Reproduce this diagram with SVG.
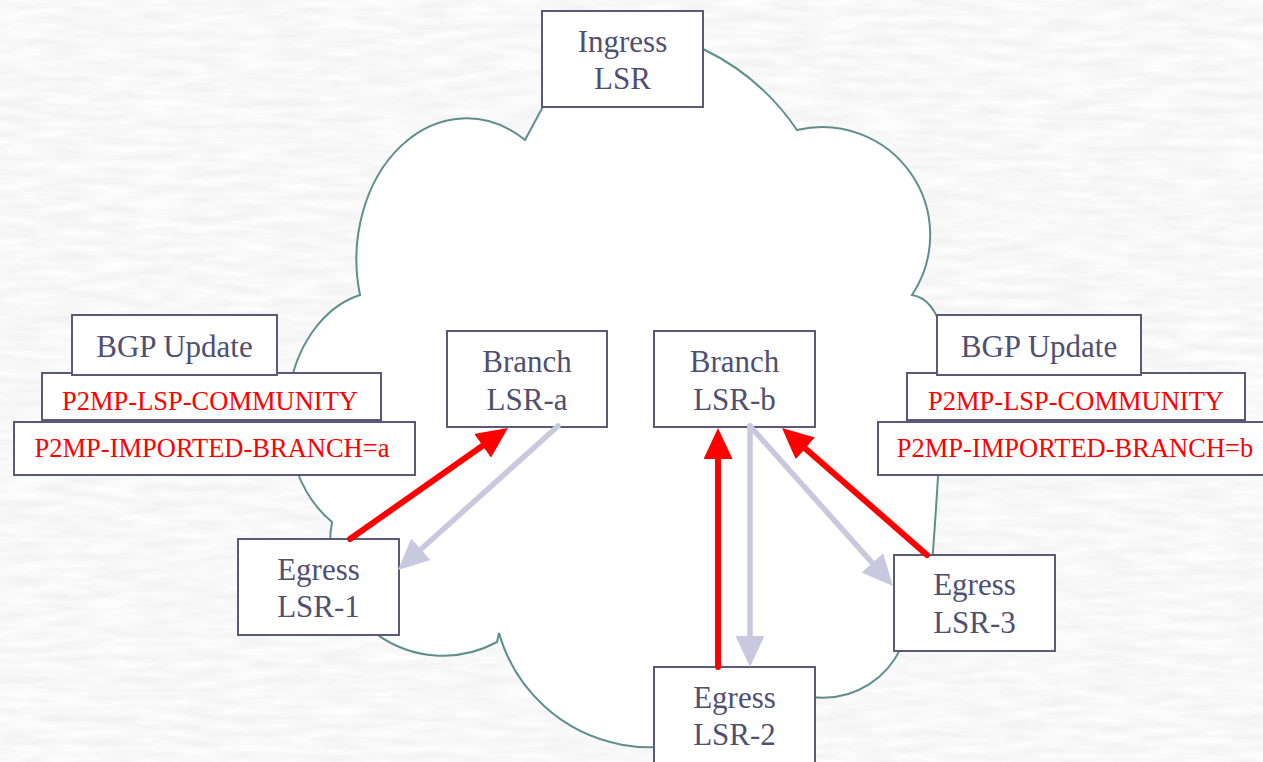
<svg xmlns="http://www.w3.org/2000/svg" width="1263" height="762" viewBox="0 0 1263 762">
  <defs>
    <filter id="marble" x="0" y="0" width="100%" height="100%">
      <feTurbulence type="fractalNoise" baseFrequency="0.022 0.13" numOctaves="4" seed="7"/>
      <feColorMatrix type="matrix" values="0.16 0 0 0 0.86  0.16 0 0 0 0.86  0.16 0 0 0 0.86  0 0 0 0 1"/>
    </filter>
    <marker id="head-red" viewBox="0 0 31 29" refX="0" refY="14.5" markerWidth="31" markerHeight="29" markerUnits="userSpaceOnUse" orient="auto">
      <path d="M0,0 L31,14.5 L0,29 Z" fill="#ff0000"/>
    </marker>
    <marker id="head-lav" viewBox="0 0 31 29" refX="0" refY="14.5" markerWidth="31" markerHeight="29" markerUnits="userSpaceOnUse" orient="auto">
      <path d="M0,0 L31,14.5 L0,29 Z" fill="#c8c8df"/>
    </marker>
  </defs>
  <style>
    .box { fill: #ffffff; stroke: #5a5a78; stroke-width: 2; }
    .lbl { font-family: "Liberation Serif", "Times New Roman", serif; font-size: 31px; fill: #4f4f72; text-anchor: middle; }
    .attr { font-family: "Liberation Serif", "Times New Roman", serif; font-size: 26.5px; fill: #ff0000; text-anchor: middle; }
    .red { stroke: #ff0000; stroke-width: 6; fill: none; stroke-linecap: round; marker-end: url(#head-red); }
    .lav { stroke: #c8c8df; stroke-width: 5.5; fill: none; stroke-linecap: round; marker-end: url(#head-lav); }
  </style>

  <!-- textured backdrop -->
  <rect x="0" y="0" width="1263" height="762" fill="#f2f2f2"/>
  <rect x="0" y="0" width="1263" height="762" filter="url(#marble)"/>

  <!-- network cloud -->
  <path id="cloud" fill="#ffffff" stroke="#5e8e8e" stroke-width="2" stroke-linejoin="miter"
        d="M 553 88 L 525 140
           A 110 141 0 0 0 360 295
           A 96 125 0 0 0 332 522
           A 113 113 0 0 0 497 642
           L 499 633
           A 157 157 0 0 0 776 684
           A 86 86 0 0 0 908 600
           L 930 590
           C 934 540 937 500 940 440
           L 948 400
           C 950 360 945 300 912 295
           A 108 108 0 0 0 797 130
           A 238 238 0 0 0 703 49
           L 600 60 Z"/>

  <!-- routers -->
  <g id="ingress-lsr">
    <rect class="box" x="542" y="11" width="161" height="96"/>
    <text class="lbl" x="622.5" y="52">Ingress</text>
    <text class="lbl" x="622.5" y="89">LSR</text>
  </g>
  <g id="branch-lsr-a">
    <rect class="box" x="447" y="331" width="160" height="96"/>
    <text class="lbl" x="527" y="372">Branch</text>
    <text class="lbl" x="527" y="410">LSR-a</text>
  </g>
  <g id="branch-lsr-b">
    <rect class="box" x="654" y="331" width="161" height="96"/>
    <text class="lbl" x="734.5" y="372">Branch</text>
    <text class="lbl" x="734.5" y="410">LSR-b</text>
  </g>
  <g id="egress-lsr-1">
    <rect class="box" x="238" y="539" width="161" height="96"/>
    <text class="lbl" x="318.5" y="580">Egress</text>
    <text class="lbl" x="318.5" y="617">LSR-1</text>
  </g>
  <g id="egress-lsr-2">
    <rect class="box" x="654" y="667" width="161" height="110"/>
    <text class="lbl" x="734.5" y="708">Egress</text>
    <text class="lbl" x="734.5" y="745">LSR-2</text>
  </g>
  <g id="egress-lsr-3">
    <rect class="box" x="894" y="555" width="161" height="96"/>
    <text class="lbl" x="974.5" y="595">Egress</text>
    <text class="lbl" x="974.5" y="633">LSR-3</text>
  </g>

  <!-- BGP update from branch a -->
  <g id="bgp-update-a">
    <rect class="box" x="14" y="422" width="401" height="53"/>
    <text class="attr" x="212" y="457">P2MP-IMPORTED-BRANCH=a</text>
    <rect class="box" x="42" y="373" width="339" height="47"/>
    <text class="attr" x="210" y="410">P2MP-LSP-COMMUNITY</text>
    <rect class="box" x="72" y="315" width="205" height="60"/>
    <text class="lbl" x="174.5" y="357">BGP Update</text>
  </g>

  <!-- BGP update from branch b -->
  <g id="bgp-update-b">
    <rect class="box" x="878" y="422" width="401" height="53"/>
    <text class="attr" x="1075" y="457">P2MP-IMPORTED-BRANCH=b</text>
    <rect class="box" x="907" y="373" width="338" height="47"/>
    <text class="attr" x="1076" y="410">P2MP-LSP-COMMUNITY</text>
    <rect class="box" x="937" y="315" width="204" height="60"/>
    <text class="lbl" x="1039" y="357">BGP Update</text>
  </g>

  <!-- connectors: red = upstream updates, lavender = downstream tree -->
  <g id="connectors">
    <line class="red" x1="350" y1="539" x2="482.6" y2="445.8"/>
    <line class="lav" x1="558" y1="426" x2="421" y2="549.3"/>
    <line class="red" x1="718" y1="667" x2="718" y2="459"/>
    <line class="lav" x1="750" y1="426" x2="750" y2="636"/>
    <line class="lav" x1="750" y1="426" x2="872.3" y2="562.9"/>
    <line class="red" x1="927" y1="555" x2="805.3" y2="448.4"/>
  </g>
</svg>
